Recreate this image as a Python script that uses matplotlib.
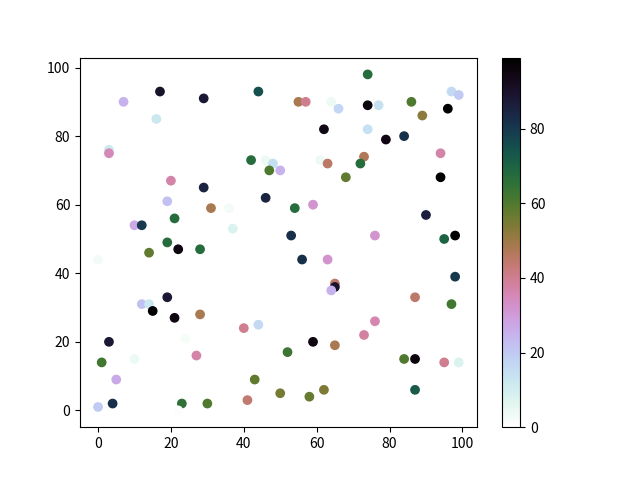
import numpy as np
import matplotlib
matplotlib.use('Agg')
import matplotlib.pyplot as plt

plt.rcParams['font.family'] = ['Noto Sans CJK SC', 'DejaVu Sans']

# point positions and colour values
x = [17, 7, 29, 44, 16, 3, 3, 42, 46, 48, 47, 50, 20, 29, 46, 19, 31, 36, 21, 10,
     12, 37, 19, 22, 28, 74, 55, 57, 64, 66, 74, 77, 86, 97, 99, 96, 89, 62, 74, 79,
     84, 94, 61, 63, 73, 72, 68, 94, 54, 59, 90, 53, 76, 95, 98, 0, 14, 12, 14, 19,
     15, 21, 28, 40, 44, 3, 24, 10, 27, 1, 5, 43, 50, 41, 0, 4, 23, 30, 22, 56,
     63, 98, 65, 65, 64, 87, 97, 76, 73, 59, 65, 52, 84, 87, 95, 99, 58, 62, 87]
y = [93, 90, 91, 93, 85, 76, 75, 73, 73, 72, 70, 70, 67, 65, 62, 61, 59, 59, 56, 54,
     54, 53, 49, 47, 47, 98, 90, 90, 90, 88, 89, 89, 90, 93, 92, 88, 86, 82, 82, 79,
     80, 75, 73, 72, 74, 72, 68, 68, 59, 60, 57, 51, 51, 50, 51, 44, 46, 31, 31, 33,
     29, 27, 28, 24, 25, 20, 21, 15, 16, 14, 9, 9, 5, 3, 1, 2, 2, 2, 0, 44,
     44, 39, 37, 36, 35, 33, 31, 26, 22, 20, 19, 17, 15, 15, 14, 14, 4, 6, 6]
c = [90, 25, 88, 75, 12, 12, 35, 67, 4, 15, 60, 25, 37, 85, 85, 22, 48, 3, 67, 27,
     80, 8, 67, 95, 67, 67, 48, 40, 4, 17, 96, 14, 60, 16, 20, 99, 52, 94, 14, 95,
     82, 37, 4, 45, 47, 67, 58, 99, 67, 32, 86, 82, 32, 70, 99, 3, 58, 22, 12, 88,
     99, 95, 48, 40, 16, 88, 2, 4, 37, 62, 27, 58, 55, 44, 20, 82, 65, 60, 1, 82,
     32, 80, 45, 90, 25, 45, 62, 36, 38, 95, 48, 63, 60, 96, 40, 8, 57, 54, 72]

fig, ax = plt.subplots(figsize=(6.4, 4.8), dpi=100)
sc = ax.scatter(x, y, c=c, cmap='cubehelix_r', vmin=0, vmax=99)
fig.colorbar(sc, ax=ax)
plt.savefig('out.png')
